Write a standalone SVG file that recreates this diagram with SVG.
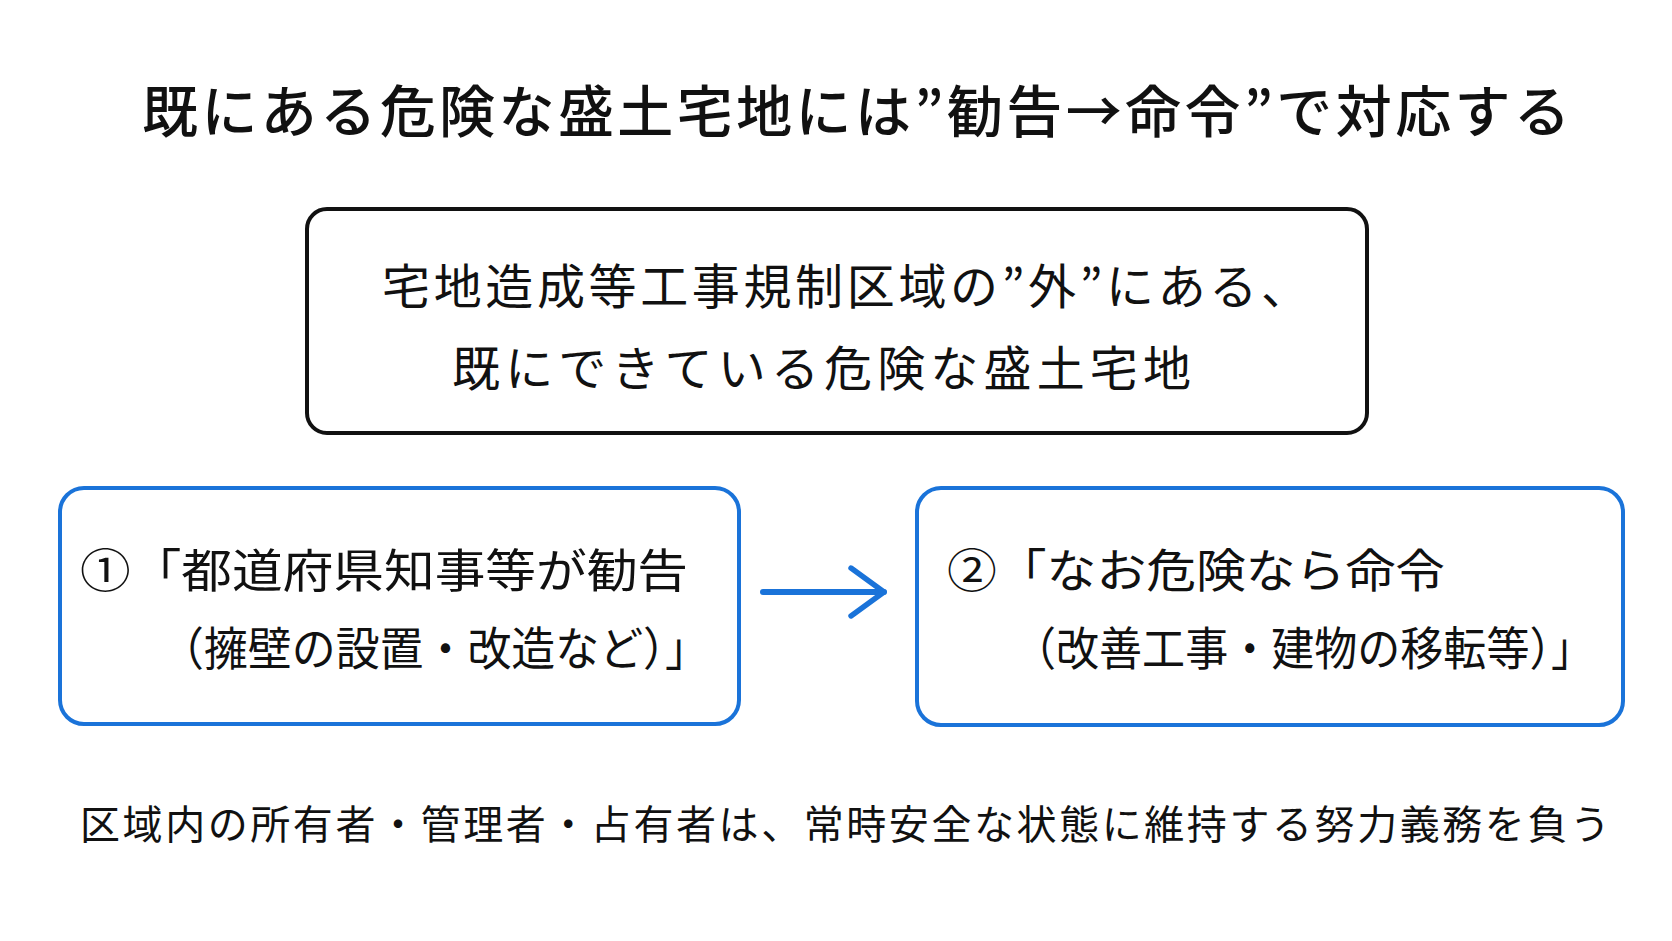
<svg xmlns="http://www.w3.org/2000/svg" width="1672" height="941" viewBox="0 0 1672 941">
<style>
text{font-family:"Noto Sans CJK JP","Noto Sans CJK SC",sans-serif;fill:#111}
.k{fill:#fff;stroke:#111;stroke-width:4}
.b{fill:#fff;stroke:#1a73d9;stroke-width:4}
</style>
<defs><marker id="ah" viewBox="0 0 10 10" refX="8.5" refY="5" markerWidth="10" markerHeight="10" orient="auto"><path d="M3 1 L8.5 5 L3 9" fill="none" stroke="#1a73d9" stroke-width="0.9" stroke-linecap="round" stroke-linejoin="round"/></marker></defs>
<rect width="1672" height="941" fill="#fff"/>
<g id="title"><text x="142" y="132" font-size="56" font-weight="500" textLength="1428" lengthAdjust="spacing">既にある危険な盛土宅地には”勧告→命令”で対応する</text></g>
<g id="target"><rect class="k" x="307" y="209" width="1060" height="224" rx="20"/>
<text x="382" y="304" font-size="48" textLength="927" lengthAdjust="spacing">宅地造成等工事規制区域の”外”にある、</text>
<text x="452" y="386" font-size="48" textLength="739" lengthAdjust="spacing">既にできている危険な盛土宅地</text></g>
<g id="step1"><rect class="b" x="60" y="488" width="679" height="236" rx="24"/>
<text x="80" y="587" font-size="46" textLength="608" lengthAdjust="spacingAndGlyphs">①「都道府県知事等が勧告</text>
<text x="160" y="665" font-size="46" textLength="549" lengthAdjust="spacingAndGlyphs">（擁壁の設置・改造など）」</text></g>
<g id="step2"><rect class="b" x="917" y="488" width="706" height="237" rx="24"/>
<text x="947" y="587" font-size="46" textLength="498" lengthAdjust="spacingAndGlyphs">②「なお危険なら命令</text>
<text x="1013" y="665" font-size="46" textLength="581" lengthAdjust="spacingAndGlyphs">（改善工事・建物の移転等）」</text></g>
<g id="connectors"><line x1="763" y1="592" x2="884" y2="592" stroke="#1a73d9" stroke-width="6" stroke-linecap="round" marker-end="url(#ah)"/>
</g>
<g id="note"><text x="80" y="839" font-size="40" textLength="1530" lengthAdjust="spacing">区域内の所有者・管理者・占有者は、常時安全な状態に維持する努力義務を負う</text></g>
</svg>
